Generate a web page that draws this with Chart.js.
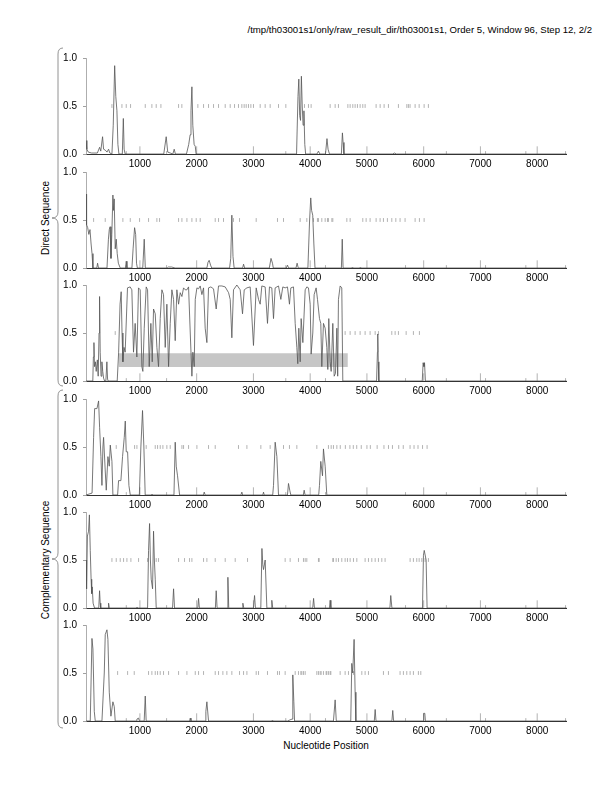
<!DOCTYPE html>
<html><head><meta charset="utf-8">
<script src="https://cdn.jsdelivr.net/npm/chart.js@4/dist/chart.umd.min.js"></script>
<style>
html,body{margin:0;padding:0;background:#fff;}
#wrap{position:relative;width:612px;height:792px;overflow:hidden;font-family:"Liberation Sans",Arial,sans-serif;}
canvas{position:absolute;left:0;}
.t{position:absolute;font-size:10px;color:#000;white-space:nowrap;line-height:12px;}
</style></head><body><div id="wrap">
<div class="t" style="right:20px;top:24px;font-size:9.6px;">/tmp/th03001s1/only/raw_result_dir/th03001s1, Order 5, Window 96, Step 12, 2/2</div>
<div class="t" style="left:326px;top:740px;transform:translateX(-50%);">Nucleotide Position</div>
<div class="t" style="left:46px;top:218px;transform:translate(-50%,-50%) rotate(-90deg);">Direct Sequence</div>
<div class="t" style="left:46px;top:560px;transform:translate(-50%,-50%) rotate(-90deg);">Complementary Sequence</div>
<svg width="612" height="792" style="position:absolute;left:0;top:0;pointer-events:none;">
<path d="M63,48 Q58,48 58,54 L58,212 Q58,218 52,218 Q58,218 58,224 L58,380 Q58,386 63,386" stroke="#777" stroke-width="0.8" fill="none"/>
<path d="M63,390 Q58,390 58,396 L58,553 Q58,559 52,559 Q58,559 58,565 L58,722 Q58,728 63,728" stroke="#777" stroke-width="0.8" fill="none"/>
</svg>
</div>
<script>
// ---- data ----
const XMIN = 50, XMAX = 8520;
const xTickLabels = [1000,2000,3000,4000,5000,6000,7000,8000];
const yTickLabels = [0, 0.5, 1];
const majorMarks = [1000,2000,3000,4000,5000,6000,7000,8000];
const minorMarks = [760,1470,3570,4270,5680,6400,7090,7800,8500];

const p1x = [50,65,90,150,250,290,310,342,360,390,420,448,470,507,530,555,575,595,612,630,690,708,722,740,1420,1463,1490,1580,1604,1625,1820,1860,1885,1900,1916,1932,1955,1975,1990,3760,3785,3800,3815,3830,3845,3860,3875,3890,3905,3920,4120,4146,4170,4270,4296,4315,4340,4550,4568,4580,4595,5450,5485,5520,8520];
const p1y = [0.14,0.05,0.02,0.01,0.01,0.07,0.03,0.18,0.05,0.04,0.02,0.05,0.01,0,0.3,0.92,0.6,0.45,0.1,0,0,0.37,0.05,0,0,0.18,0.02,0,0.05,0,0,0.1,0.2,0.45,0.7,0.3,0.1,0.08,0,0,0.6,0.78,0.4,0.35,0.81,0.5,0.3,0.45,0.1,0,0,0.03,0,0,0.16,0.05,0,0,0.22,0.12,0,0,0.01,0,0];
const p1stops = [507,683,759,835,1094,1211,1287,1370,1681,1739,2021,2121,2209,2297,2385,2503,2591,2667,2737,2796,2837,2873,2913,2955,3001,3119,3207,3295,3442,3571,3900,3970,4017,4352,4440,4498,4664,4704,4751,4792,4833,4880,4927,4968,5162,5233,5303,5379,5555,5703,5731,5760,5849,5920,6008,6083];

const p2x = [50,60,80,100,120,140,156,172,240,254,270,420,445,460,475,490,505,524,535,547,565,583,600,620,653,745,759,772,859,880,906,925,940,955,1050,1076,1095,1480,1500,1560,1620,2180,2200,2220,2245,2265,2580,2600,2620,2640,2660,2810,2826,2845,3280,3310,3336,3350,3580,3600,3620,3750,3770,3790,3960,3990,4010,4025,4045,4065,4085,4550,4565,4580,4730,4745,4760,4870,4885,4900,8520];
const p2y = [0.77,0.45,0.42,0.35,0.4,0.25,0.15,0,0,0.05,0,0,0.3,0.4,0.43,0.1,0.35,0.76,0.6,0.72,0.2,0.3,0.15,0.05,0,0,0.07,0,0,0.2,0.42,0.35,0.05,0,0,0.3,0,0,0.01,0.01,0,0,0.06,0.08,0.03,0,0,0.1,0.55,0.12,0,0,0.04,0,0,0.1,0.05,0,0,0.03,0,0,0.05,0,0,0.5,0.73,0.6,0.55,0.25,0,0,0.3,0,0,0.01,0,0,0.01,0,0];
const p2stops = [184,389,700,830,994,1152,1299,1346,1681,1740,1828,1916,1992,2062,2327,2385,2473,2649,2755,3049,3424,3530,3824,3941,4058,4128,4146,4205,4264,4305,4322,4382,4399,4646,4704,4927,4986,5056,5162,5232,5291,5361,5438,5509,5584,5672,5849,5925,6008];

const p3x = [50,170,180,190,200,215,230,250,265,280,289,300,315,330,345,360,378,400,418,430,440,600,625,650,670,685,700,720,740,781,828,858,887,916,946,975,1005,1034,1052,1076,1111,1135,1164,1193,1217,1240,1270,1299,1328,1358,1387,1416,1446,1475,1505,1534,1563,1593,1622,1651,1681,1710,1740,1769,1798,1828,1857,1887,1916,1933,1957,1975,2004,2033,2062,2092,2121,2150,2180,2209,2250,2297,2344,2385,2444,2503,2562,2591,2620,2649,2708,2767,2808,2838,2885,2943,3001,3049,3090,3119,3148,3207,3248,3283,3324,3354,3383,3442,3483,3518,3559,3600,3635,3659,3706,3736,3765,3782,3800,3824,3841,3871,3912,3941,3970,4000,4017,4046,4070,4105,4129,4164,4187,4205,4234,4264,4293,4311,4328,4352,4370,4399,4423,4446,4470,4485,4498,4528,4557,4575,5170,5185,5191,5200,5210,5975,5990,6005,6015,6030,8520];
const p3y = [0,0,0.25,0.4,0.15,0.2,0.1,0.22,0.05,0.5,0.88,0.3,0.05,0.2,0.1,0.03,0,0,0.2,0.02,0,0,0.3,0.8,0.93,0.5,0.2,0.35,0.3,0.97,0.98,0.95,0.3,0.6,0.25,0.97,0.95,0.15,0.1,0.55,0.98,0.95,0.15,0.6,0.2,0.75,0.7,0.35,0.15,0.65,0.95,0.9,0.35,0.8,0.15,0.6,0.95,0.85,0.42,0.95,0.8,0.92,0.88,0.97,0.95,0.95,0.98,0.5,0.05,0.3,0.15,0.85,0.97,0.96,0.99,0.9,0.97,0.55,0.4,0.97,0.98,0.96,0.75,0.99,0.99,0.98,0.92,0.85,0.45,0.95,1.0,0.95,0.7,0.95,0.97,0.98,0.37,0.97,0.85,0.8,0.99,0.98,0.6,0.98,0.97,0.65,0.97,0.99,0.85,0.98,0.97,0.98,0.8,0.97,0.98,0.6,0.35,0.18,0.55,0.2,0.65,0.4,0.95,0.98,0.97,0.8,0.28,0.5,0.9,0.97,0.85,0.65,0.6,0.15,0.6,0.55,0.35,0.12,0.65,0.2,0.1,0.6,0.05,0.08,0.55,0.05,0.85,0.99,0.97,0,0,0.3,0.49,0.2,0,0,0.19,0.15,0.19,0,0];
const p3stops = [565,4616,4704,4792,4880,4968,5056,5145,5203,5438,5497,5555,5691,5819,5925];
const p3boxX = [624, 4664];
const p3boxY = [0.145, 0.29];

const p4x = [50,157,184,202,243,272,290,313,331,348,360,389,407,436,460,478,507,524,607,624,665,694,724,742,759,783,806,830,990,1017,1046,1070,1093,1200,1211,1225,1600,1622,1640,1663,1699,2120,2133,2150,2780,2796,2810,3165,3178,3190,3340,3354,3383,3413,3442,3600,3618,3640,3659,3880,3894,3910,4150,4164,4187,4217,4234,4264,4293,8520];
const p4y = [0,0.02,0.6,0.9,0.9,0.98,0.7,0.4,0.1,0.5,0.6,0.25,0.05,0.4,0.3,0.52,0.35,0,0,0.15,0.15,0.4,0.6,0.77,0.45,0.45,0.1,0,0,0.5,0.88,0.5,0,0,0.01,0,0,0.55,0.3,0.2,0,0,0.03,0,0,0.03,0,0,0.03,0,0,0.1,0.55,0.4,0,0,0.12,0.05,0,0,0.05,0,0,0.1,0.35,0.2,0.48,0.3,0,0];
const p4stops = [583,906,947,1111,1270,1311,1358,1405,1475,1534,1740,1769,1857,2004,2209,2327,2737,2885,3131,3295,3530,3635,3765,4117,4322,4370,4410,4470,4530,4620,4700,4760,4820,4900,5000,5060,5180,5300,5380,5450,5560,5640,5760,5830,5900,5980,6060];

const p5x = [50,60,75,95,110,125,140,150,160,175,200,275,289,300,310,440,448,460,940,947,960,1135,1152,1170,1185,1199,1223,1240,1255,1270,1287,1575,1593,1610,2020,2033,2048,2330,2344,2360,2535,2550,2565,2800,2814,2830,3000,3020,3035,3130,3150,3165,3178,3207,3237,3310,3324,3340,4045,4060,4075,4340,4352,4365,5405,5420,5440,5979,5996,6010,6043,6060,8520];
const p5y = [0.5,0.2,0.75,0.8,0.97,0.6,0.3,0.15,0.22,0.05,0,0,0.18,0.05,0,0,0.05,0,0,0.01,0,0,0.6,0.88,0.5,0.3,0.2,0.8,0.5,0.3,0,0,0.2,0,0,0.1,0,0,0.18,0,0,0.32,0,0,0.05,0,0,0.13,0,0,0.62,0.45,0.4,0.5,0,0,0.08,0,0,0.1,0,0,0.08,0,0,0.13,0,0,0.55,0.6,0.5,0,0];
const p5stops = [507,583,653,712,771,841,976,1135,1287,1328,1681,1786,1874,1916,2121,2180,2327,2503,2679,2896,3559,3647,3794,3882,3912,3941,4146,4158,4399,4410,4458,4499,4557,4616,4657,4704,4763,4822,4968,5027,5086,5145,5203,5262,5320,5761,5819,5878,5920,5967,6025,6084];

const p6x = [50,125,155,172,196,213,331,372,389,419,436,460,489,524,548,565,940,947,976,990,1075,1094,1110,1875,1887,1900,2150,2162,2180,2209,3325,3336,3350,3600,3680,3694,3712,3725,4410,4440,4460,4715,4733,4750,4774,4792,4805,5130,5145,5160,5440,5455,5470,5990,6000,6020,6030,8520];
const p6y = [0,0,0.86,0.75,0.1,0,0,0.5,0.9,0.95,0.85,0.3,0.05,0.2,0.15,0,0,0.02,0.03,0,0,0.26,0,0,0.03,0,0,0.1,0.2,0,0,0.01,0,0,0.02,0.48,0.2,0,0,0.22,0,0,0.6,0.5,0.85,0.3,0,0,0.12,0,0,0.11,0,0,0.08,0.08,0,0];
const p6stops = [607,783,900,1152,1211,1270,1311,1358,1416,1505,1681,1828,1975,2033,2121,2327,2385,2462,2532,2620,2755,2826,2885,3049,3090,3248,3424,3459,3559,3736,3794,3836,3853,3882,3912,4117,4146,4176,4193,4234,4281,4293,4322,4352,4364,4528,4616,4675,4763,4910,4968,5027,5291,5379,5584,5643,5702,5761,5819,5907,5949];

const panels = [
  {x:p1x, y:p1y, stops:p1stops},
  {x:p2x, y:p2y, stops:p2stops},
  {x:p3x, y:p3y, stops:p3stops, boxX:p3boxX, boxY:p3boxY},
  {x:p4x, y:p4y, stops:p4stops},
  {x:p5x, y:p5y, stops:p5stops},
  {x:p6x, y:p6y, stops:p6stops}
];

// ---- layout ----
const panelTops = [56,169.5,283,396.5,510,622.5];
const PLOT_H = 98, PAD_T = 10, AXIS_H = 20, LEFT_W = 86, RIGHT_PAD = 45.3;
const FONT = {family:'"Liberation Sans", Arial, sans-serif', size:10};

function segs(xs, y0, y1){
  const out=[];
  xs.forEach(v=>{out.push({x:v,y:y0});out.push({x:v,y:y1});out.push({x:v,y:null});});
  return out;
}

const wrap = document.getElementById('wrap');
panels.forEach((p,i)=>{
  const c = document.createElement('canvas');
  const h = PLOT_H + PAD_T + AXIS_H;
  c.width = 612; c.height = h;
  c.style.width='612px'; c.style.height=h+'px';
  c.style.top = (panelTops[i]-PAD_T)+'px';
  wrap.appendChild(c);
  const ds = [
    {data:p.x.map((v,k)=>({x:v,y:p.y[k]})), borderColor:'#555', borderWidth:0.8, pointRadius:0, fill:false, order:0},
    {data:segs(p.stops,0.48,0.52), borderColor:'#a0a0a0', borderWidth:0.8, pointRadius:0, spanGaps:false, fill:false, order:2},
    {data:segs(majorMarks,0,0.08), borderColor:'#a0a0a0', borderWidth:0.8, pointRadius:0, spanGaps:false, fill:false, order:3},
    {data:segs(minorMarks,0,0.03), borderColor:'#a0a0a0', borderWidth:0.8, pointRadius:0, spanGaps:false, fill:false, order:3}
  ];
  if(p.boxX){
    ds.push({data:[{x:p.boxX[0],y:p.boxY[1]},{x:p.boxX[1],y:p.boxY[1]}], borderWidth:0, borderColor:'rgba(0,0,0,0)', backgroundColor:'#c6c6c6', pointRadius:0, fill:{value:p.boxY[0]}, order:5});
  }
  new Chart(c,{
    type:'line',
    data:{datasets:ds},
    options:{
      responsive:false, animation:false, parsing:true,
      layout:{padding:{top:PAD_T,right:RIGHT_PAD,left:0,bottom:0}},
      plugins:{legend:{display:false},tooltip:{enabled:false},title:{display:false}},
      elements:{line:{tension:0}},
      scales:{
        x:{type:'linear',min:XMIN,max:XMAX,
           afterFit:s=>{s.height=AXIS_H;},
           afterBuildTicks:s=>{s.ticks=xTickLabels.map(v=>({value:v}));},
           grid:{display:false,drawTicks:false},
           border:{display:true,color:'#333',width:1},
           ticks:{padding:4,font:FONT,color:'#000',maxRotation:0,autoSkip:false,callback:v=>String(v)}},
        y:{type:'linear',min:0,max:1,
           afterFit:s=>{s.width=LEFT_W;},
           afterBuildTicks:s=>{s.ticks=yTickLabels.map(v=>({value:v}));},
           grid:{display:true,drawOnChartArea:false,tickLength:3,color:'#888',lineWidth:0.8},
           border:{display:true,color:'#999',width:0.8},
           ticks:{padding:6,font:FONT,color:'#000',callback:v=>Number(v).toFixed(1)}}
      }
    }
  });
});
</script>
</body></html>
